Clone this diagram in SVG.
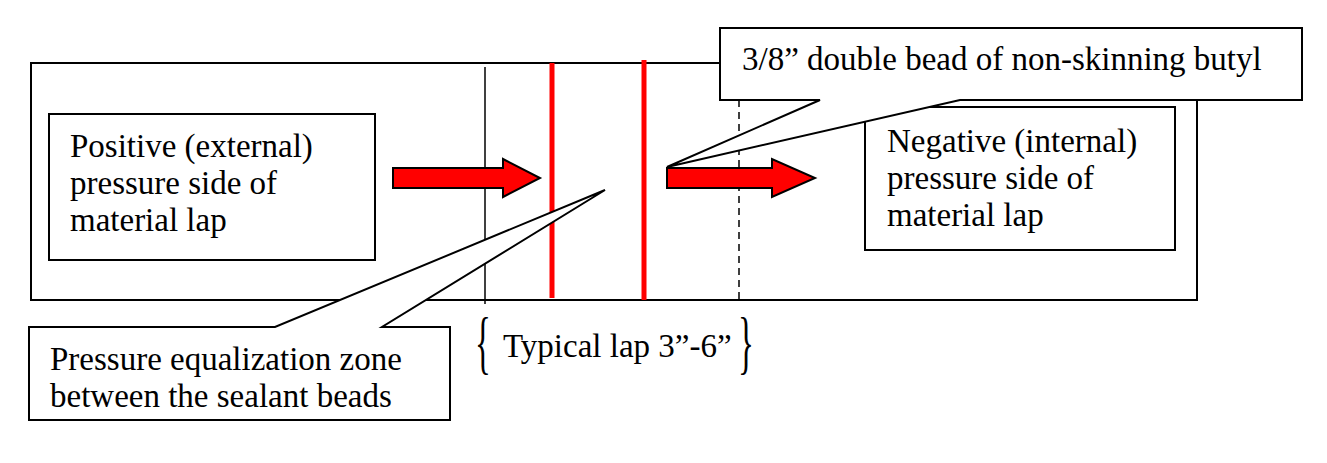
<svg xmlns="http://www.w3.org/2000/svg" width="1327" height="463" viewBox="0 0 1327 463">
<style>
.box{fill:#fff;stroke:#000;stroke-width:2}
.ln{stroke:#000;stroke-width:1.5;fill:none}
.red{stroke:#ff0000;stroke-width:5;fill:none}
.arr{fill:#ff0000;stroke:#000;stroke-width:2;stroke-linejoin:miter}
.t{font-family:"Liberation Serif","Times New Roman",serif;font-size:33px;fill:#000}
</style>
<rect width="1327" height="463" fill="#fff"/>
<g id="lap-frame">
<rect x="31" y="63" width="1166" height="237" class="box" fill="none"/>
<line x1="485" y1="67" x2="485" y2="304" class="ln"/>
<line x1="739" y1="100" x2="739" y2="300" class="ln" stroke-dasharray="7,5"/>
</g>
<g id="sealant-beads">
<line x1="552" y1="63" x2="552" y2="298" class="red"/>
<line x1="644" y1="60" x2="644" y2="300" class="red"/>
</g>
<g id="positive-side">
<rect x="49" y="114" width="326" height="146" class="box"/>
<text class="t" x="70" y="157">Positive (external)</text>
<text class="t" x="70" y="194">pressure side of</text>
<text class="t" x="70" y="231">material lap</text>
</g>
<g id="negative-side">
<rect x="865" y="107" width="310" height="143" class="box"/>
<text class="t" x="887" y="152">Negative (internal)</text>
<text class="t" x="887" y="189">pressure side of</text>
<text class="t" x="887" y="226">material lap</text>
</g>
<g id="connectors">
<polygon class="arr" points="393,168 503,168 503,159 540,178 503,197 503,188 393,188"/>
<polygon class="arr" points="667,168 772,168 772,159 815,178 772,197 772,188 667,188"/>
</g>
<g id="bead-callout">
<path d="M720,28 H1302 V100 H960 L667,167 L820,100 H720 Z" class="box"/>
<text class="t" x="742" y="70">3/8” double bead of non-skinning butyl</text>
</g>
<g id="zone-callout">
<path d="M29,327 H275 L605,190 L382,327 H450 V420 H29 Z" class="box"/>
<text class="t" x="50" y="370">Pressure equalization zone</text>
<text class="t" x="50" y="407">between the sealant beads</text>
</g>
<g id="lap-label">
<text class="t" transform="translate(475,366) scale(1,2.1)" x="0" y="0">{</text>
<text class="t" x="503" y="357">Typical lap 3”-6”</text>
<text class="t" transform="translate(738,366) scale(1,2.1)" x="0" y="0">}</text>
</g>
</svg>
